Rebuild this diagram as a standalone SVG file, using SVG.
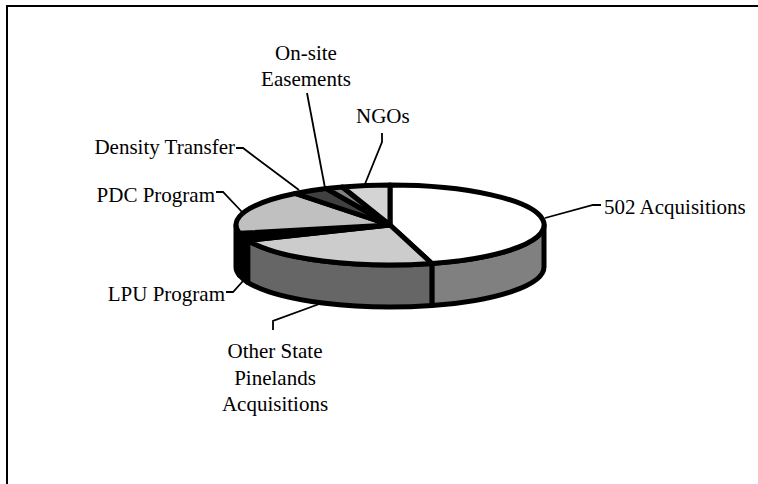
<svg xmlns="http://www.w3.org/2000/svg" width="758" height="484" viewBox="0 0 758 484">
<style>
.pie{stroke:#000;stroke-width:5;stroke-linejoin:round}
.lbl{font-family:"Liberation Serif","Times New Roman",serif;font-size:21px;fill:#000}
.lead{fill:none;stroke:#000;stroke-width:1.8}
</style>
<rect x="0" y="0" width="758" height="484" fill="#fff"/>
<path d="M7,484 L7,6 L758,6" fill="none" stroke="#000" stroke-width="2"/>
<g id="pie-sides">
<path class="pie" fill="#808080" d="M544,225 A154,40 0 0 1 431.9,263.5 L431.9,305.5 A154,40 0 0 0 544,267 Z"/>
<path class="pie" fill="#666666" d="M431.9,263.5 A154,40 0 0 1 247.7,240.3 L247.7,282.3 A154,40 0 0 0 431.9,305.5 Z"/>
<path class="pie" fill="#000000" d="M247.7,240.3 A154,40 0 0 1 239.4,233.3 L239.4,275.3 A154,40 0 0 0 247.7,282.3 Z"/>
<path class="pie" fill="#000000" d="M239.4,233.3 A154,40 0 0 1 236,225 L236,267 A154,40 0 0 0 239.4,275.3 Z"/>
</g>
<g id="slice-502">
<path class="pie" fill="#ffffff" d="M390,225 L390,185 A154,40 0 0 1 431.9,263.5 Z"/>
</g>
<g id="slice-other-state">
<path class="pie" fill="#cccccc" d="M390,225 L431.9,263.5 A154,40 0 0 1 247.7,240.3 Z"/>
</g>
<g id="slice-lpu">
<path class="pie" fill="#000000" d="M390,225 L247.7,240.3 A154,40 0 0 1 239.4,233.3 Z"/>
</g>
<g id="slice-pdc">
<path class="pie" fill="#c0c0c0" d="M390,225 L239.4,233.3 A154,40 0 0 1 295.2,193.5 Z"/>
</g>
<g id="slice-density">
<path class="pie" fill="#404040" d="M390,225 L295.2,193.5 A154,40 0 0 1 326.4,188.6 Z"/>
</g>
<g id="slice-onsite">
<path class="pie" fill="#808080" d="M390,225 L326.4,188.6 A154,40 0 0 1 342.4,187 Z"/>
</g>
<g id="slice-ngos">
<path class="pie" fill="#d4d4d4" d="M390,225 L342.4,187 A154,40 0 0 1 390,185 Z"/>
</g>
<g id="connectors">
<path class="lead" d="M545,218 L593,205 L601,205"/>
<path class="lead" d="M273,330 L273,321 L322,303"/>
<path class="lead" d="M226,292 L233,292 L243,281"/>
<path class="lead" d="M216,192 L223,192 L243,213"/>
<path class="lead" d="M236,148 L243,148 L299,190"/>
<path class="lead" d="M307,93 L325,188"/>
<path class="lead" d="M382,133 L382,142 L365,184"/>
</g>
<g id="label-502"><text class="lbl" x="604" y="214">502 Acquisitions</text></g>
<g id="label-other-state"><text class="lbl" text-anchor="middle" x="275" y="358">Other State</text><text class="lbl" text-anchor="middle" x="275" y="385">Pinelands</text><text class="lbl" text-anchor="middle" x="275" y="411">Acquisitions</text></g>
<g id="label-lpu"><text class="lbl" text-anchor="end" x="225" y="301">LPU Program</text></g>
<g id="label-pdc"><text class="lbl" text-anchor="end" x="215" y="202">PDC Program</text></g>
<g id="label-density"><text class="lbl" text-anchor="end" x="235" y="154">Density Transfer</text></g>
<g id="label-onsite"><text class="lbl" text-anchor="middle" x="306" y="60">On-site</text><text class="lbl" text-anchor="middle" x="306" y="86">Easements</text></g>
<g id="label-ngos"><text class="lbl" x="356" y="123">NGOs</text></g>
</svg>
